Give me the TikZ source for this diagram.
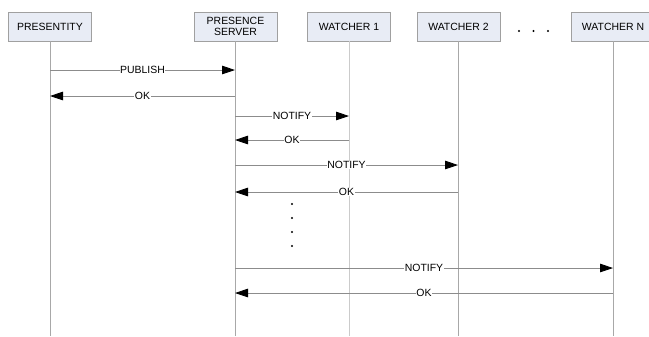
\documentclass[tikz,border=0pt]{standalone}
\usepackage{fontspec}
\setmainfont{Liberation Sans}
\usetikzlibrary{arrows.meta}
\definecolor{boxfill}{HTML}{E8ECF5}
\definecolor{boxline}{HTML}{A0A0A0}
\definecolor{lifeline}{HTML}{A8A8A8}
\definecolor{msgline}{HTML}{8C8C8C}
\tikzset{
  actor/.style={draw=boxline, fill=boxfill, minimum width=83bp, minimum height=29bp,
    inner sep=0pt, align=center, font=\fontsize{10.5}{11.5}\selectfont},
  life/.style={draw=lifeline, line width=0.8bp},
  msg/.style={draw=msgline, line width=0.8bp, -{Triangle[length=13bp,width=8.5bp,color=black]}},
  msglabel/.style={fill=white, inner sep=0.6bp, font=\fontsize{10.5}{11.5}\selectfont},
  dot/.style={circle, fill=black, inner sep=0pt, minimum size=2.2bp}
}
\begin{document}
\begin{tikzpicture}[x=1bp, y=-1bp]
\useasboundingbox (0,0) rectangle (649,336);
% participants
\node[actor] (pe) at (50,26.5) {PRESENTITY};
\node[actor] (ps) at (235.5,26.5) {PRESENCE\\SERVER};
\node[actor] (w1) at (349,26.5) {WATCHER 1};
\node[actor] (w2) at (458.5,26.5) {WATCHER 2};
\node[actor] (wn) at (613,26.5) {WATCHER N};
% ellipsis between watchers
\node[dot] (e1) at (519,31) {};
\node[dot] (e2) at (533.5,31) {};
\node[dot] (e3) at (548,31) {};
% lifeline ends
\coordinate (peE) at (50,336);
\coordinate (psE) at (235,336);
\coordinate (w1E) at (349,336);
\coordinate (w2E) at (458,336);
\coordinate (wnE) at (613,336);
\draw[life] (pe.south -| peE) -- (peE);
\draw[life] (ps.south -| psE) -- (psE);
\draw[life, draw=lifeline!60] (w1.south -| w1E) -- (w1E);
\draw[life] (w2.south -| w2E) -- (w2E);
\draw[life] (wn.south -| wnE) -- (wnE);
% messages
\coordinate (a1) at (50,70);   \coordinate (b1) at (235,70);
\coordinate (a2) at (235,96);  \coordinate (b2) at (50,96);
\coordinate (a3) at (235,116); \coordinate (b3) at (349,116);
\coordinate (a4) at (349,140); \coordinate (b4) at (235,140);
\coordinate (a5) at (235,165); \coordinate (b5) at (458,165);
\coordinate (a6) at (458,192); \coordinate (b6) at (235,192);
\coordinate (a7) at (235,268); \coordinate (b7) at (613,268);
\coordinate (a8) at (613,293); \coordinate (b8) at (235,293);
\draw[msg] (a1) -- node[msglabel] {PUBLISH} (b1);
\draw[msg] (a2) -- node[msglabel] {OK} (b2);
\draw[msg] (a3) -- node[msglabel] {NOTIFY} (b3);
\draw[msg] (a4) -- node[msglabel] {OK} (b4);
\draw[msg] (a5) -- node[msglabel] {NOTIFY} (b5);
\draw[msg] (a6) -- node[msglabel] {OK} (b6);
\draw[msg] (a7) -- node[msglabel] {NOTIFY} (b7);
\draw[msg] (a8) -- node[msglabel] {OK} (b8);
% vertical ellipsis
\node[dot] (v1) at (292,204) {};
\node[dot] (v2) at (292,218) {};
\node[dot] (v3) at (292,232) {};
\node[dot] (v4) at (292,246) {};
\end{tikzpicture}
\end{document}
